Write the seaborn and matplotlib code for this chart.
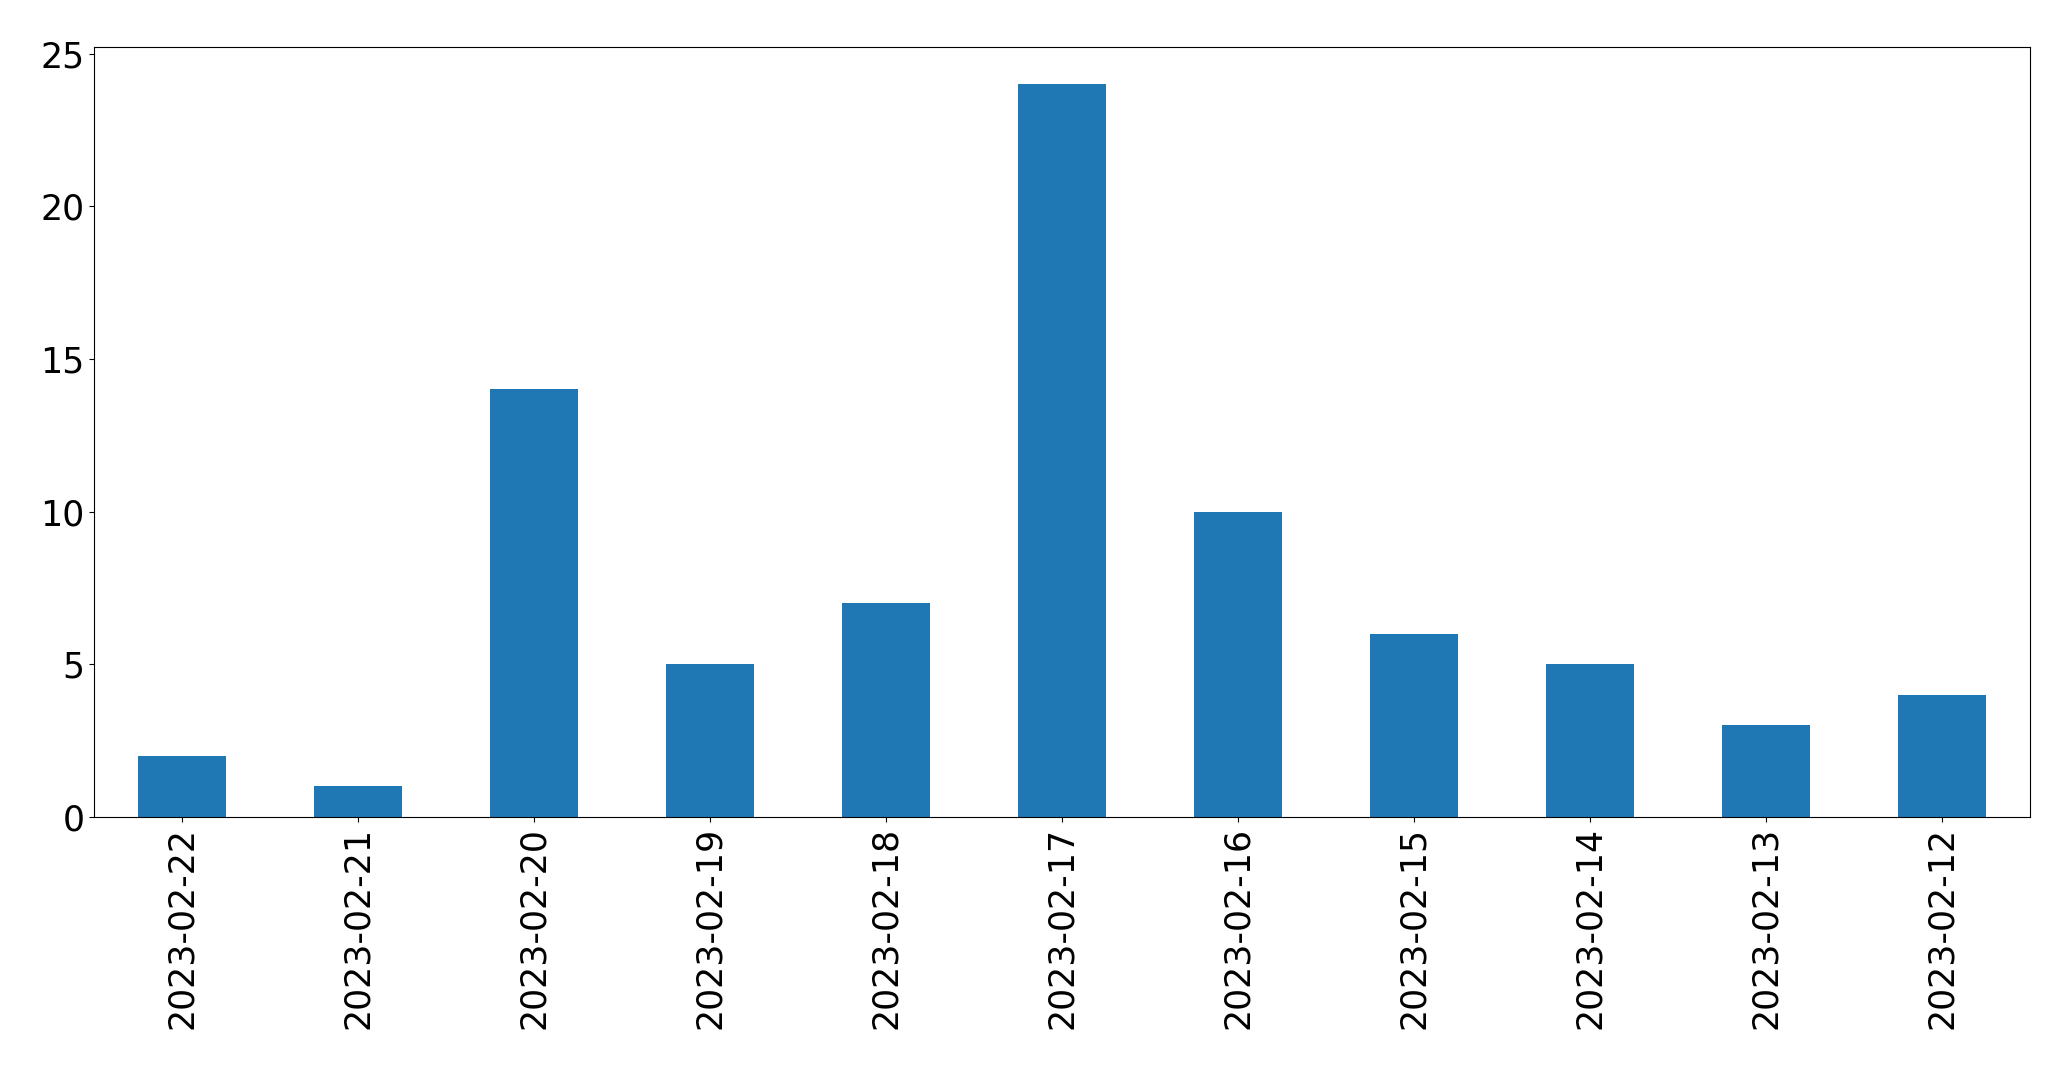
import pandas as pd
import seaborn as sns
import matplotlib.pyplot as plt

# Daily counts (dates listed newest first, as in the original)
dates = ['2023-02-22', '2023-02-21', '2023-02-20', '2023-02-19', '2023-02-18', '2023-02-17',
         '2023-02-16', '2023-02-15', '2023-02-14', '2023-02-13', '2023-02-12']
counts = [2, 1, 14, 5, 7, 24, 10, 6, 5, 3, 4]

df = pd.DataFrame({'date': dates, 'count': counts})

fig, ax = plt.subplots(figsize=(20.71, 10.69), dpi=100)
fig.subplots_adjust(left=0.0455, right=0.9802, top=0.9556, bottom=0.2357)

sns.barplot(data=df, x='date', y='count', order=dates, color='#1f77b4',
            saturation=1, width=0.5, ax=ax)

ax.set_xlim(-0.5, len(dates) - 0.5)
ax.set_ylim(0, max(counts) * 1.05)
ax.set_xlabel('')
ax.set_ylabel('')
ax.tick_params(axis='both', labelsize=25)
ax.tick_params(axis='x', labelrotation=90)

fig.savefig('out.png', dpi=100)
